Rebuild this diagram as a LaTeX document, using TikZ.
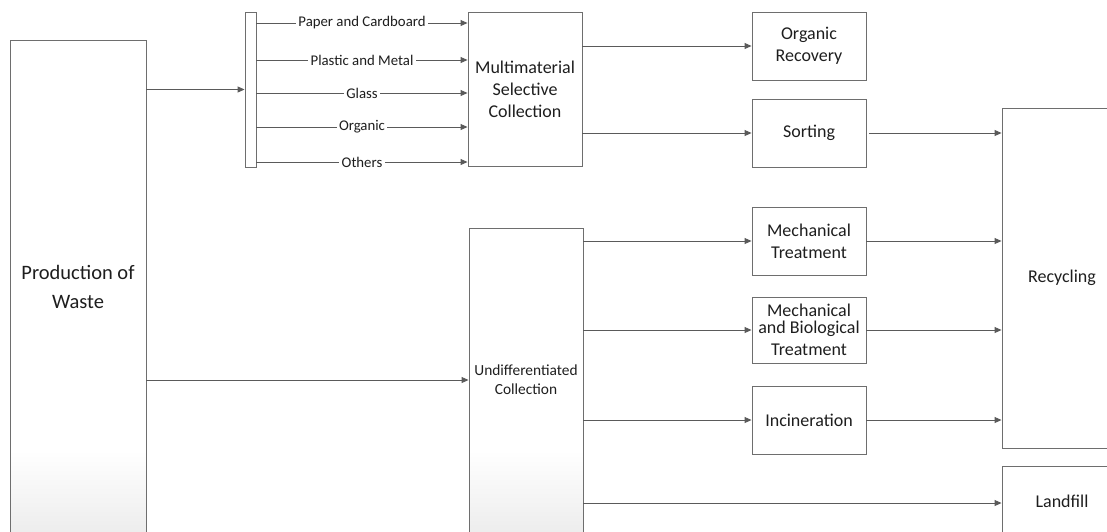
\documentclass[tikz,border=0pt]{standalone}
\usepackage{fontspec}
\setmainfont{Carlito}
\usetikzlibrary{arrows.meta}
\definecolor{boxc}{HTML}{6E6E6E}
\definecolor{linec}{HTML}{5A5A5A}
\definecolor{txt}{HTML}{1E1E1E}
\begin{document}
\begin{tikzpicture}[x=1pt,y=-1pt,
  box/.style={draw=boxc, line width=0.9pt, minimum width=114pt, minimum height=68pt,
    inner sep=0pt, align=center, font=\fontsize{18}{22}\selectfont, text=txt},
  arr/.style={draw=linec, line width=0.9pt, -{Triangle[length=7pt,width=6pt]}},
  lbl/.style={fill=white, inner sep=2.5pt, font=\fontsize{14.8}{17}\selectfont, text=txt}]
\useasboundingbox (0,0) rectangle (1107,531);
\clip (0,0) rectangle (1107,531);
% bottom fade of tall boxes
\shade[top color=white, bottom color=black!7] (10,450) rectangle (146,531);
\shade[top color=white, bottom color=black!7] (469,450) rectangle (583,531);
% nodes
\node[box, minimum width=136pt, minimum height=494pt, font=\fontsize{20.5}{29}\selectfont] (prod) at (78,287) {Production of\\Waste};
\node[box, minimum width=11pt, minimum height=155pt] (bar) at (250.5,89.5) {};
\node[box, minimum height=154pt] (multi) at (525,89) {Multimaterial\\Selective\\Collection};
\node[box] (orgrec) at (809,46) {Organic\\Recovery};
\node[box] (sort) at (809,133) {Sorting};
\node[box, minimum height=304pt, font=\fontsize{15.4}{19}\selectfont] (undiff) at (526,380) {Undifferentiated\\Collection};
\node[box] (mech) at (809,241) {Mechanical\\Treatment};
\node[box, minimum height=66pt] (mbt) at (809,330) {Mechanical\\[-5pt]and Biological\\Treatment};
\node[box] (incin) at (809,420) {Incineration};
\node[box, minimum width=120pt, minimum height=340pt] (recyc) at (1062,278) {Recycling};
\node[box, minimum width=120pt, minimum height=70pt] (landf) at (1062,501) {Landfill};
% connectors
\draw[arr] (prod.east |- bar) -- (bar.west);
\draw[arr] (bar.east |- {(0,23)}) -- node[lbl] {Paper and Cardboard} (multi.west |- {(0,23)});
\draw[arr] (bar.east |- {(0,60)}) -- node[lbl] {Plastic and Metal} (multi.west |- {(0,60)});
\draw[arr] (bar.east |- {(0,93)}) -- node[lbl] {Glass} (multi.west |- {(0,93)});
\draw[arr] (bar.east |- {(0,127)}) -- node[lbl] {Organic} (multi.west |- {(0,127)});
\draw[arr] (bar.east |- {(0,162)}) -- node[lbl] {Others} (multi.west |- {(0,162)});
\draw[arr] (prod.east |- undiff) -- (undiff.west);
\draw[arr] (multi.east |- orgrec) -- (orgrec.west);
\draw[arr] (multi.east |- sort) -- (sort.west);
\draw[arr] (undiff.east |- mech) -- (mech.west);
\draw[arr] (undiff.east |- mbt) -- (mbt.west);
\draw[arr] (undiff.east |- incin) -- (incin.west);
\draw[arr] (undiff.east |- {(0,503)}) -- (landf.west |- {(0,503)});
\draw[arr] ([xshift=3pt]sort.east) -- (recyc.west |- sort);
\draw[arr] (mech.east) -- (recyc.west |- mech);
\draw[arr] (mbt.east) -- (recyc.west |- mbt);
\draw[arr] (incin.east) -- (recyc.west |- incin);
\end{tikzpicture}
\end{document}
